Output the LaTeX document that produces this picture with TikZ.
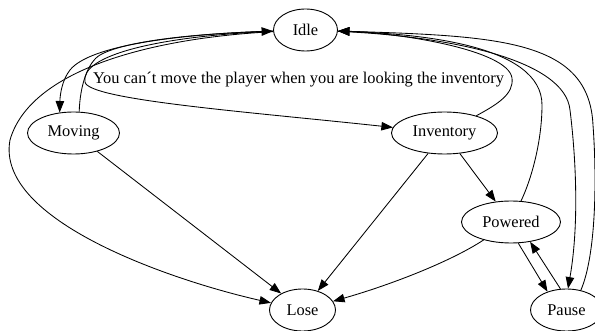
\documentclass[tikz,border=0pt]{standalone}
\usepackage{fontspec}
\setmainfont{Liberation Serif}
\usetikzlibrary{shapes.geometric,arrows.meta}
\begin{document}
\begin{tikzpicture}[x=1pt,y=-1pt,
  state/.style={ellipse,draw,line width=0.9pt,minimum height=42pt,inner sep=0pt,
    font=\fontsize{16.4pt}{19pt}\selectfont},
  arr/.style={-{Triangle[length=11.5pt,width=8.5pt]},line width=0.85pt},
  lbl/.style={font=\fontsize{16.4pt}{19pt}\selectfont,inner sep=0pt}]
\useasboundingbox (0,0) rectangle (595,331);
\node[state,minimum width=64pt] (Idle) at (305.5,30) {Idle};
\node[state,minimum width=92pt] (Moving) at (73.5,133) {Moving};
\node[state,minimum width=106pt] (Inventory) at (444.5,133) {Inventory};
\node[state,minimum width=99pt] (Powered) at (511,222) {Powered};
\node[state,minimum width=66pt] (Lose) at (302.5,310) {Lose};
\node[state,minimum width=72pt] (Pause) at (566.5,310) {Pause};
\node[lbl] (L) at (298.5,80) {You can´t move the player when you are looking the inventory};
% Idle -> Moving
\draw[arr] (Idle) .. controls (180,34) and (90,45) .. (70,70) .. controls (62,80) and (60,95) .. (Moving.124);
% Moving -> Idle
\draw[arr] (Moving.75) .. controls (80,85) and (88,62) .. (100,55) .. controls (130,38) and (220,33) .. (Idle);
% Idle -> Inventory (label)
\draw[arr] (Idle) .. controls (160,36) and (80,55) .. (85,82) .. controls (88,100) and (250,112) .. (Inventory);
% Inventory -> Idle
\draw[arr] (Inventory) .. controls (498,104) and (514,94) .. (512,78) .. controls (508,50) and (400,33) .. (Idle);
% Idle -> Lose
\draw[arr] (Idle) .. controls (150,38) and (30,70) .. (10,140) .. controls (-5,220) and (170,280) .. (Lose);
% straight edges
\draw[arr] (Moving) -- (Lose);
\draw[arr] (Inventory) -- (Lose);
\draw[arr] (Inventory) -- (Powered);
% Powered -> Lose
\draw[arr] (Powered) .. controls (450,262) and (390,285) .. (Lose);
% Powered -> Idle
\draw[arr] (Powered) .. controls (532,178) and (542,140) .. (542,105) .. controls (542,45) and (420,34) .. (Idle);
% Powered <-> Pause
\draw[arr] (Powered.-71) -- (Pause.136);
\draw[arr] (Pause.106) -- (Powered.-46);
% Idle -> Pause
\draw[arr] (Idle) .. controls (450,36) and (565,60) .. (570,110) .. controls (575,150) and (580,220) .. (Pause.86);
% Pause -> Idle
\draw[arr] (Pause.54) .. controls (596,255) and (597,180) .. (593,125) .. controls (589,40) and (500,36) .. (Idle);
\end{tikzpicture}
\end{document}
